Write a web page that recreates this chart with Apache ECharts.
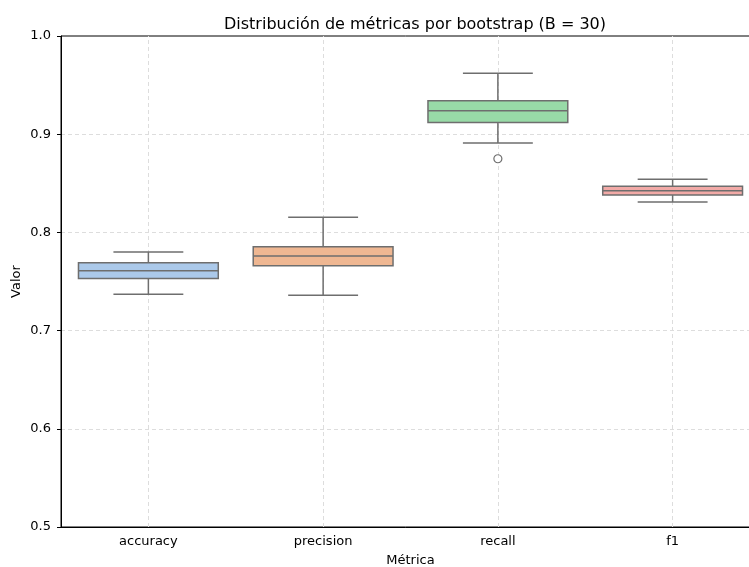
<!DOCTYPE html>
<html>
<head>
<meta charset="utf-8">
<script src="https://cdn.jsdelivr.net/npm/echarts@6/dist/echarts.min.js"></script>
<style>html,body{margin:0;padding:0;background:#fff}#c{width:749px;height:567px}</style>
</head>
<body>
<div id="c"></div>
<script>
const categories = ['accuracy', 'precision', 'recall', 'f1'];
const whiskerLow = [0.737, 0.736, 0.891, 0.831];
const q1 = [0.753, 0.766, 0.912, 0.838];
const median = [0.761, 0.776, 0.924, 0.8425];
const q3 = [0.769, 0.7855, 0.934, 0.847];
const whiskerHigh = [0.780, 0.8155, 0.962, 0.854];
const outliers = [['recall', 0.875]];
const fills = ['#abc9ea', '#efb792', '#98daa7', '#f2aaa7'];

const FONT = 'DejaVu Sans';
const EDGE = '#6e6e6e';

const boxData = categories.map((c, i) => [i, whiskerLow[i], q1[i], median[i], q3[i], whiskerHigh[i]]);

const chart = echarts.init(document.getElementById('c'));
chart.setOption({
  backgroundColor: '#fff',
  animation: false,
  title: {
    text: 'Distribución de métricas por bootstrap (B = 30)',
    left: 410, top: 12, textAlign: 'center',
    textStyle: { fontFamily: FONT, fontSize: 16, fontWeight: 'normal', color: '#000' }
  },
  grid: { left: 61, top: 36, width: 699, height: 491, show: true, borderColor: '#000', borderWidth: 1, backgroundColor: 'transparent', outerBoundsMode: 'none', containLabel: false },
  xAxis: {
    type: 'category', data: categories, boundaryGap: true,
    name: 'Métrica', nameLocation: 'middle', nameGap: 27, nameMoveOverlap: false,
    nameTextStyle: { fontFamily: FONT, fontSize: 13, color: '#000' },
    axisLine: { lineStyle: { color: '#000', width: 1 } },
    axisTick: { alignWithLabel: true, length: 4, lineStyle: { color: '#000' } },
    axisLabel: { fontFamily: FONT, fontSize: 13, color: '#000', margin: 8 },
    splitLine: { show: false }
  },
  yAxis: {
    type: 'value', min: 0.5, max: 1.0, interval: 0.1,
    name: 'Valor', nameLocation: 'middle', nameGap: 38, nameMoveOverlap: false,
    nameTextStyle: { fontFamily: FONT, fontSize: 13, color: '#000' },
    axisLine: { show: true, lineStyle: { color: '#000', width: 1 } },
    axisTick: { show: true, length: 4, lineStyle: { color: '#000' } },
    axisLabel: { fontFamily: FONT, fontSize: 13, color: '#000', margin: 10, formatter: v => v.toFixed(1) },
    splitLine: { show: true, showMinLine: false, showMaxLine: false, lineStyle: { color: '#dddddd', type: [4, 3], width: 1 } }
  },
  series: [
    {
      type: 'scatter', data: [], z: 1, silent: true,
      markLine: {
        silent: true, symbol: 'none', label: { show: false }, z: 1,
        lineStyle: { color: '#dddddd', type: [4, 3], width: 1 },
        data: categories.map(c => ({ xAxis: c }))
      }
    },
    {
      type: 'custom', z: 3,
      data: boxData,
      encode: { x: 0, y: [1, 2, 3, 4, 5] },
      renderItem: function (params, api) {
        const i = api.value(0);
        const band = api.size([1, 0])[0];
        const bw = band * 0.8, cw = bw / 2;
        const x = api.coord([i, api.value(3)])[0];
        const yLo = api.coord([i, api.value(1)])[1];
        const yQ1 = api.coord([i, api.value(2)])[1];
        const yMed = api.coord([i, api.value(3)])[1];
        const yQ3 = api.coord([i, api.value(4)])[1];
        const yHi = api.coord([i, api.value(5)])[1];
        const ls = { stroke: EDGE, lineWidth: 1.5, fill: null };
        return {
          type: 'group',
          children: [
            { type: 'line', shape: { x1: x, y1: yQ1, x2: x, y2: yLo }, style: ls },
            { type: 'line', shape: { x1: x, y1: yQ3, x2: x, y2: yHi }, style: ls },
            { type: 'line', shape: { x1: x - cw / 2, y1: yLo, x2: x + cw / 2, y2: yLo }, style: ls },
            { type: 'line', shape: { x1: x - cw / 2, y1: yHi, x2: x + cw / 2, y2: yHi }, style: ls },
            { type: 'rect', shape: { x: x - bw / 2, y: yQ3, width: bw, height: yQ1 - yQ3 }, style: { fill: fills[i], stroke: EDGE, lineWidth: 1.5 } },
            { type: 'line', shape: { x1: x - bw / 2, y1: yMed, x2: x + bw / 2, y2: yMed }, style: ls }
          ]
        };
      }
    },
    {
      type: 'scatter', z: 4,
      data: outliers,
      symbol: 'circle', symbolSize: 8,
      itemStyle: { color: '#fff', borderColor: EDGE, borderWidth: 1.2, opacity: 1 }
    }
  ]
});
</script>
</body>
</html>
